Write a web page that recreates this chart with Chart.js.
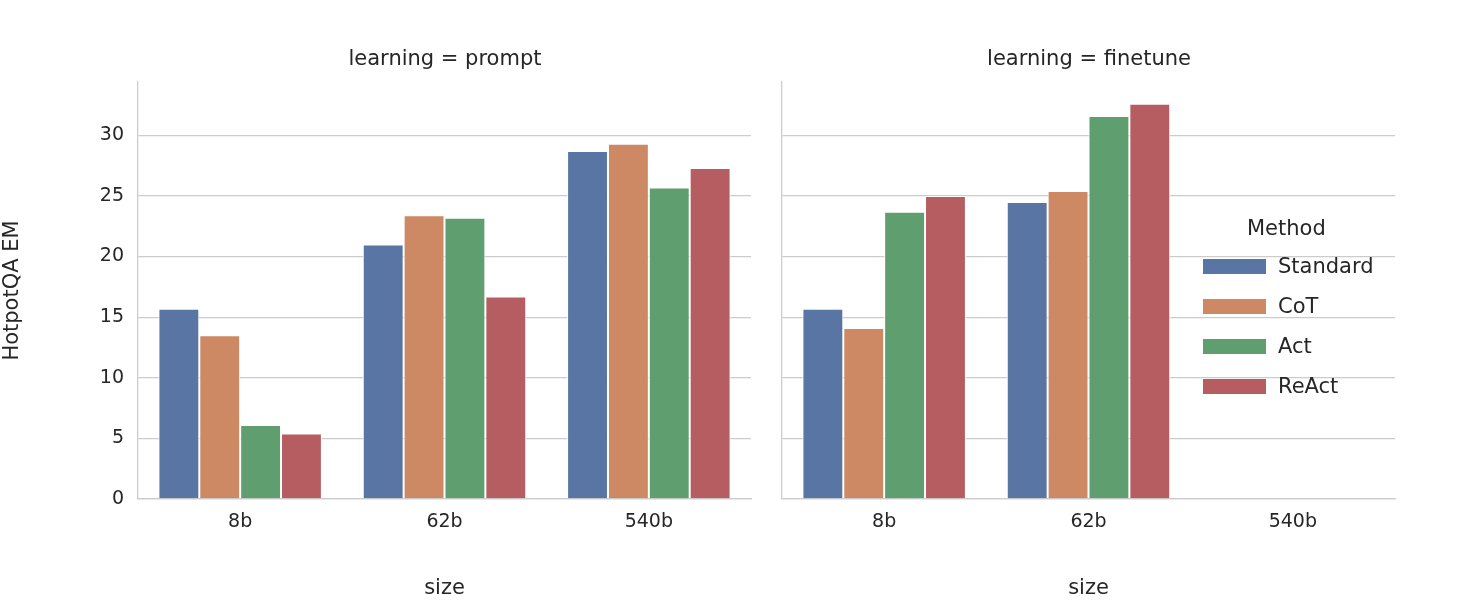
<!DOCTYPE html>
<html>
<head>
<meta charset="utf-8">
<script src="https://cdn.jsdelivr.net/npm/chart.js@4"></script>
<style>
  body { margin: 0; background: #fff; font-family: "DejaVu Sans", sans-serif; color: #262626; }
  .panel { position: absolute; top: 0; height: 601px; }
  .title { position: absolute; top: 46px; font-size: 21px; white-space: nowrap; transform: translateX(-50%); }
  #legend { position: absolute; left: 1203px; top: 216px; font-size: 21px; }
  #legend .head { margin-left: 44px; margin-bottom: 6px; }
  #legend .row { display: flex; align-items: center; height: 40px; }
  #legend .sw { width: 63px; height: 15px; margin-right: 12px; }
</style>
</head>
<body>
<div class="panel" style="left:0;width:760px"><canvas id="promptChart"></canvas></div>
<div class="panel" style="left:770px;width:710px"><canvas id="finetuneChart"></canvas></div>
<div class="title" style="left:445px">learning = prompt</div>
<div class="title" style="left:1089px">learning = finetune</div>
<div id="legend"></div>
<script>
// Datos
const sizes = ['8b', '62b', '540b'];
const methods = ['Standard', 'CoT', 'Act', 'ReAct'];
const colors = ['#5875a4', '#cc8963', '#5f9e6e', '#b55d60'];
const promptStandard = [15.7, 21.0, 28.7];
const promptCoT = [13.5, 23.4, 29.3];
const promptAct = [6.1, 23.2, 25.7];
const promptReAct = [5.4, 16.7, 27.3];
const finetuneStandard = [15.7, 24.5, null];
const finetuneCoT = [14.1, 25.4, null];
const finetuneAct = [23.7, 31.6, null];
const finetuneReAct = [25.0, 32.6, null];
const yTicks = [0, 5, 10, 15, 20, 25, 30];

const textColor = '#262626';
const gridColor = '#cccccc';

function makeDatasets(series) {
    return series.map((data, i) => ({
        label: methods[i],
        data: data,
        backgroundColor: colors[i],
        borderColor: '#ffffff',
        borderWidth: 1,
        categoryPercentage: 0.8,
        barPercentage: 1.0,
    }));
}

function makeChart(id, series, showYTicks, rightPad) {
    return new Chart(document.getElementById(id), {
        type: 'bar',
        data: { labels: sizes, datasets: makeDatasets(series) },
        options: {
            responsive: true,
            maintainAspectRatio: false,
            animation: false,
            layout: { padding: { top: 82, right: rightPad, left: 0, bottom: 0 } },
            plugins: { legend: { display: false }, tooltip: { enabled: false } },
            scales: {
                x: {
                    grid: { display: false, drawTicks: false },
                    border: { color: gridColor, width: 1.3 },
                    ticks: { color: textColor, font: { size: 19, family: 'DejaVu Sans' }, padding: 12 },
                    title: { display: true, text: 'size', color: textColor, font: { size: 21, family: 'DejaVu Sans' }, padding: 0 },
                    afterFit: s => { s.height = 102; },
                },
                y: {
                    min: 0,
                    max: 34.4,
                    afterBuildTicks: s => { s.ticks = yTicks.map(v => ({ value: v })); },
                    grid: { color: gridColor, lineWidth: 1.3, drawTicks: false },
                    border: { color: gridColor, width: 1.3 },
                    ticks: { display: showYTicks, color: textColor, font: { size: 19, family: 'DejaVu Sans' }, padding: 14 },
                    title: { display: showYTicks, text: 'HotpotQA EM', color: textColor, font: { size: 21, family: 'DejaVu Sans' }, padding: 0 },
                    afterFit: s => { s.width = showYTicks ? 138 : 12; },
                },
            },
        },
    });
}

makeChart('promptChart', [promptStandard, promptCoT, promptAct, promptReAct], true, 9);
makeChart('finetuneChart', [finetuneStandard, finetuneCoT, finetuneAct, finetuneReAct], false, 85);

// Leyenda
let html = '<div class="head">Method</div>';
methods.forEach((m, i) => {
    html += `<div class="row"><div class="sw" style="background:${colors[i]}"></div>${m}</div>`;
});
document.getElementById('legend').innerHTML = html;
</script>
</body>
</html>
